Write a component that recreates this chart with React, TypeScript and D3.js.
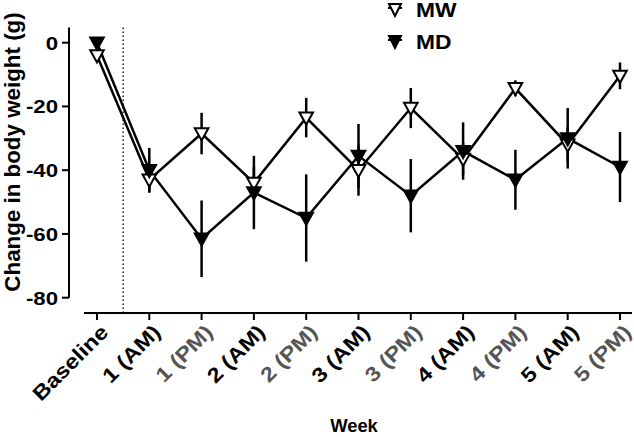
import React from "react";
import * as d3 from "d3";

const categories = ["Baseline", "1 (AM)", "1 (PM)", "2 (AM)", "2 (PM)", "3 (AM)", "3 (PM)", "4 (AM)", "4 (PM)", "5 (AM)", "5 (PM)"];
const mwMean = [-4, -43, -28.5, -44, -23.5, -40, -20.5, -36.5, -14.3, -32, -10.4];
const mwErr = [0, 4, 6.5, 5, 6.2, 8, 6.3, 5, 2.5, 5.5, 4.2];
const mdMean = [0, -40, -61.5, -47, -55, -35.5, -48, -34, -43, -30, -39];
const mdErr = [0, 7, 12, 11.5, 13.7, 10, 11.5, 9, 9.4, 9.5, 11];
const yTicks = [0, -20, -40, -60, -80];

const font = "Arial, 'Liberation Sans', Helvetica, sans-serif";

// downward triangle marker centred on (cx, cy)
const tri = (cx: number, cy: number) =>
  `M${cx - 6.8},${cy - 5.2} L${cx + 6.8},${cy - 5.2} L${cx},${cy + 7} Z`;

export default function App() {
  const x = d3.scalePoint<string>().domain(categories).range([97, 620]);
  const y = d3.scaleLinear().domain([-80, 0]).range([297.7, 42.7]);
  const line = d3.line<number>()
    .x((_, i) => x(categories[i]) as number)
    .y(d => y(d));

  const series = [
    { name: "MW", mean: mwMean, err: mwErr, fill: "#fff" },
    { name: "MD", mean: mdMean, err: mdErr, fill: "#000" },
  ];
  const dividerX = ((x(categories[0]) as number) + (x(categories[1]) as number)) / 2;

  return (
    <svg width={634} height={437} style={{ position: "absolute", left: 0, top: 0, background: "#fff" }} fontFamily={font}>
      {/* y axis */}
      <line x1={69} x2={69} y1={y(4.8)} y2={y(-80)} stroke="#000" strokeWidth={2} />
      {yTicks.map(t => (
        <g key={t}>
          <line x1={62} x2={69} y1={y(t)} y2={y(t)} stroke="#000" strokeWidth={2} />
          <text transform={`translate(58,${y(t)}) scale(1.17,1)`} dy="0.36em" textAnchor="end" fontSize={19} fontWeight="bold">{t}</text>
        </g>
      ))}
      <text transform={`translate(19.5,152) rotate(-90) scale(1.04,1)`} textAnchor="middle" fontSize={21.5} fontWeight="bold">
        Change in body weight  (g)
      </text>

      {/* x axis */}
      <line x1={84} x2={632} y1={313} y2={313} stroke="#000" strokeWidth={2} />
      {categories.map(c => {
        const px = x(c) as number;
        return (
          <g key={c}>
            <line x1={px} x2={px} y1={313} y2={320} stroke="#000" strokeWidth={2} />
            <text transform={`translate(${px + 2},${323}) rotate(-45) scale(1.15,1)`} textAnchor="end" dy="0.72em"
              fontSize={20.5} fontWeight="bold" fill={c.includes("PM") ? "#555" : "#000"}>{c}</text>
          </g>
        );
      })}
      <text transform="translate(354,432) scale(1.05,1)" textAnchor="middle" fontSize={17.5} fontWeight="bold">Week</text>

      {/* baseline divider */}
      <line x1={dividerX} x2={dividerX} y1={y(4.8)} y2={313} stroke="#000" strokeWidth={1.3} strokeDasharray="1.5,2.5" />

      {/* series */}
      {series.map(s => (
        <g key={s.name}>
          <path d={line(s.mean) || ""} fill="none" stroke="#000" strokeWidth={2.5} />
          {s.mean.map((m, i) => s.err[i] > 0 && (
            <line key={i} x1={x(categories[i])} x2={x(categories[i])} y1={y(m + s.err[i])} y2={y(m - s.err[i])}
              stroke="#000" strokeWidth={2.5} />
          ))}
        </g>
      ))}
      {series.map(s => (
        <g key={s.name + "m"}>
          {s.mean.map((m, i) => (
            <path key={i} d={tri(x(categories[i]) as number, y(m))} fill={s.fill} stroke="#000" strokeWidth={2} strokeLinejoin="miter" />
          ))}
        </g>
      ))}

      {/* legend */}
      {series.map((s, i) => {
        const ly = 10 + i * 32;
        return (
          <g key={s.name + "l"}>
            <line x1={388} x2={402} y1={ly - 2} y2={ly - 2} stroke="#000" strokeWidth={2} />
            <path d={`M${389},${ly - 6} L${401},${ly - 6} L${395},${ly + 6} Z`} fill={s.fill} stroke="#000" strokeWidth={2} />
            <text transform={`translate(416,${ly + 7}) scale(1.17,1)`} fontSize={19.5} fontWeight="bold">{s.name}</text>
          </g>
        );
      })}
    </svg>
  );
}
